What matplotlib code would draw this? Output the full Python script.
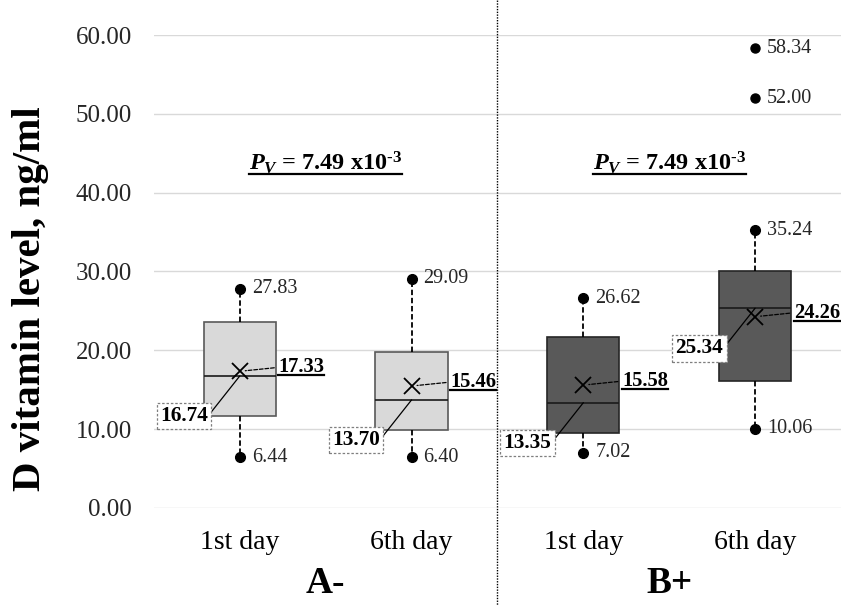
import matplotlib.pyplot as plt
from matplotlib.lines import Line2D
from matplotlib.text import Text
from matplotlib.transforms import blended_transform_factory

plt.rcParams['font.family'] = 'Liberation Serif'
plt.rcParams['mathtext.fontset'] = 'custom'
plt.rcParams['mathtext.rm'] = 'Liberation Serif:bold'
plt.rcParams['mathtext.it'] = 'Liberation Serif:italic:bold'
plt.rcParams['mathtext.bf'] = 'Liberation Serif:bold'

# data
days = ['1st day', '6th day', '1st day', '6th day']
groups = ['A-', 'B+']
q1 = [11.7, 9.9, 9.5, 16.1]
q3 = [23.6, 19.8, 21.7, 30.0]
medians = [16.74, 13.70, 13.35, 25.34]
means = [17.33, 15.46, 15.58, 24.26]
mins = [6.44, 6.40, 7.02, 10.06]
maxs = [27.83, 29.09, 26.62, 35.24]
outliers = [[], [], [], [52.00, 58.34]]
p_text = r'$P_V$ = 7.49 x10$^{\text{-3}}$'
yticks = [0, 10, 20, 30, 40, 50, 60]

face = ['#d9d9d9', '#d9d9d9', '#595959', '#595959']
edge = ['#595959', '#595959', '#262626', '#262626']

fig = plt.figure(figsize=(8.41, 6.06), dpi=100)
ax = fig.add_axes([0.183, 0.162, 0.817, 0.780])

pos = [1, 2, 3, 4]
stats = []
for i in range(4):
    stats.append(dict(med=medians[i], q1=q1[i], q3=q3[i], whislo=mins[i],
                      whishi=maxs[i], mean=means[i], fliers=outliers[i]))

bp = ax.bxp(stats, positions=pos, widths=0.42, patch_artist=True,
            showmeans=True, showcaps=False,
            meanprops=dict(marker='x', markersize=12, markeredgecolor='black',
                           markeredgewidth=1.3),
            medianprops=dict(color='#1a1a1a', lw=1.2),
            whiskerprops=dict(color='black', ls=(0, (3, 1.5)), lw=1.3),
            flierprops=dict(marker='o', markerfacecolor='black',
                            markeredgecolor='black', markersize=6.5))
for b, fc, ec in zip(bp['boxes'], face, edge):
    b.set_facecolor(fc)
    b.set_edgecolor(ec)
    b.set_linewidth(1.2)
    b.set_zorder(2)

# whisker end dots
ax.plot(pos, mins, 'o', color='black', ms=7, zorder=3)
ax.plot(pos, maxs, 'o', color='black', ms=7, zorder=3)

vc = '#262626'
for i, p in enumerate(pos):
    for v in [mins[i], maxs[i]] + outliers[i]:
        ax.text(p + 0.07, v, f'{v:.2f}', fontsize=14.5, color=vc,
                ha='left', va='center')

underlined = []
for i, p in enumerate(pos):
    t = ax.annotate(f'{means[i]:.2f}', xy=(p, means[i]),
                    xytext=(p + 0.225, means[i] + 0.5),
                    fontsize=14.8, fontweight='bold', ha='left', va='center',
                    arrowprops=dict(arrowstyle='-', ls=(0, (3, 1.5)), lw=0.9,
                                    color='black', shrinkA=1, shrinkB=4,
                                    relpos=(0, 0.5)))
    underlined.append(t)
    ax.annotate(f'{medians[i]:.2f}', xy=(p, medians[i]),
                xytext=(p - 0.185, medians[i] - 5.1),
                fontsize=15.3, fontweight='bold', ha='right', va='center',
                bbox=dict(boxstyle='square,pad=0.15', fc='white', ec='#7f7f7f',
                          ls=(0, (2, 1.5)), lw=0.9),
                arrowprops=dict(arrowstyle='-', lw=0.9, color='black',
                                shrinkA=0, shrinkB=0, relpos=(1, 0.5)))

for gx in [1.5, 3.5]:
    t = ax.text(gx, 43.8, p_text, fontsize=17.5, fontweight='bold',
                ha='center', va='center')
    underlined.append(t)

ax.set_xlim(0.5, 4.5)
ax.set_ylim(0, 60)
ax.set_yticks(yticks)
ax.set_yticklabels([f'{v:.2f}' for v in yticks], fontsize=18, color=vc)
ax.set_xticks(pos)
ax.set_xticklabels(days, fontsize=20, color='black')
ax.tick_params(axis='both', length=0)
ax.tick_params(axis='y', pad=16)
ax.tick_params(axis='x', pad=16)
ax.grid(axis='y', color='#d9d9d9', lw=1)
ax.set_axisbelow(True)
for s in ax.spines.values():
    s.set_visible(False)
ax.set_ylabel('D vitamin level, ng/ml', fontsize=29.5, fontweight='bold')
ax.yaxis.set_label_coords(-0.153, 0.442)

trans = blended_transform_factory(ax.transData, ax.transAxes)
for gx, g in zip([1.5, 3.5], groups):
    ax.text(gx, -0.16, g, transform=trans, fontsize=27, fontweight='bold',
            ha='center', va='center')

ax.axvline(2.5, ymin=-0.21, ymax=1.08, clip_on=False, color='black',
           ls=(0, (1, 1)), lw=1)

# underline bold labels
fig.canvas.draw()
r = fig.canvas.get_renderer()
inv = fig.transFigure.inverted()
for t in underlined:
    bb = Text.get_window_extent(t, r)
    y = bb.y0 + 2
    (x0, y0), (x1, _) = inv.transform([(bb.x0, y), (bb.x1, y)])
    fig.add_artist(Line2D([x0, x1], [y0, y0], transform=fig.transFigure,
                          color='black', lw=1.6))

plt.savefig('out.png', dpi=100)
